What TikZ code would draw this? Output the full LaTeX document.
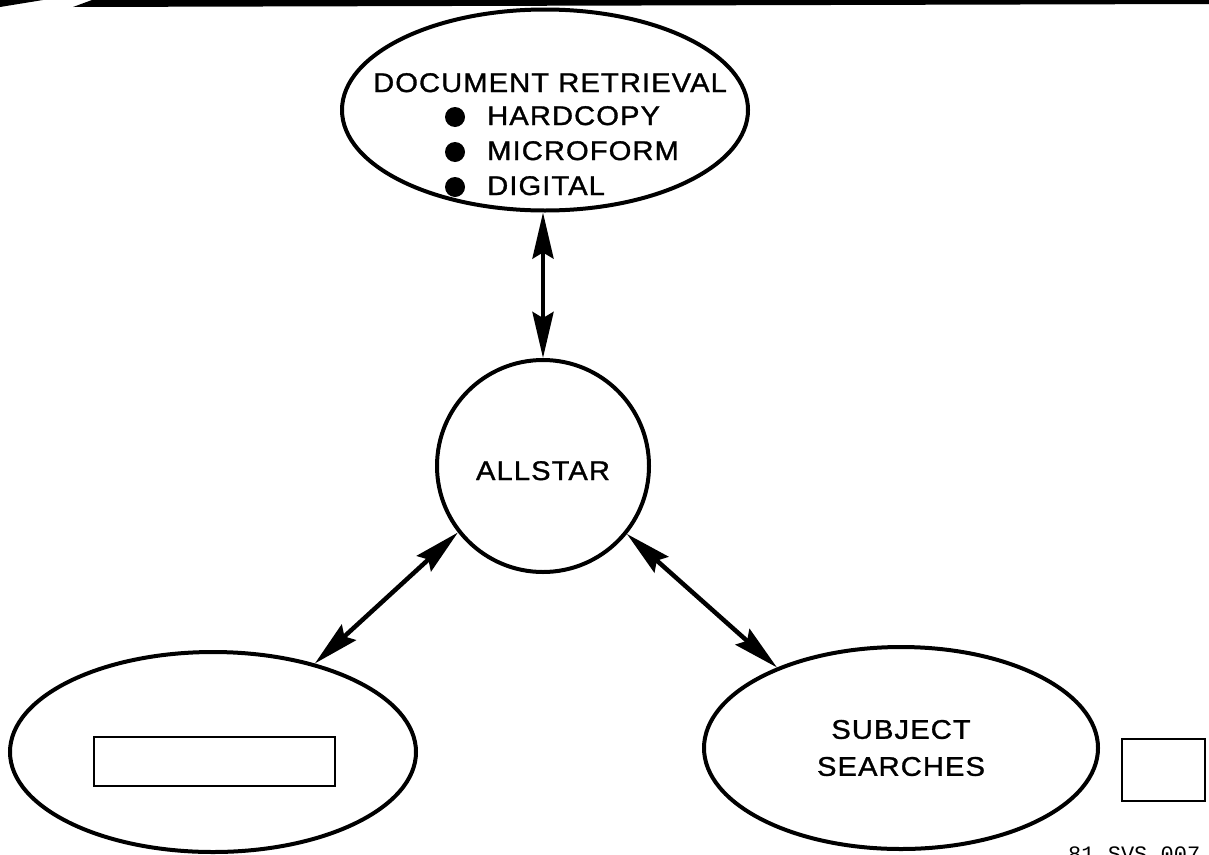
\documentclass[tikz,border=0pt]{standalone}
\usepackage{fontspec}
\newfontfamily\lblfont[LetterSpace=4,FakeStretch=1.08,FakeBold=1.2]{Liberation Sans}
\newfontfamily\codefont{Liberation Mono}
\usetikzlibrary{shapes.geometric,arrows.meta}
\begin{document}
\begin{tikzpicture}[x=1pt,y=-1pt,
  bubble/.style={ellipse,draw,line width=4pt,inner sep=0pt},
  hub/.style={circle,draw,line width=4pt,minimum size=212pt,inner sep=0pt},
  lbl/.style={font=\lblfont\fontsize{27}{37}\selectfont,inner sep=0pt},
  tipx/.tip={Stealth[length=46pt,width=21pt,inset=6pt]},
  link/.style={line width=4.5pt,tipx-tipx},
  blank/.style={draw,line width=2pt,inner sep=0pt},
  dot/.style={circle,fill,inner sep=0pt,minimum size=20pt}
]
\useasboundingbox (0,0) rectangle (1209,854);
\fill[white] (0,0) rectangle (1209,854);
% top edge marks
\fill (0,0) -- (43,0) -- (0,7) -- cycle;
\fill (73,7) -- (92,0) -- (1209,0) -- (1209,4) -- cycle;

% document retrieval
\node[bubble,minimum width=406pt,minimum height=201pt] (doc) at (545,110) {};
\node[lbl,anchor=base] (doct) at (550,92) {DOCUMENT RETRIEVAL};
\node[dot] (d1) at (455,117) {};
\node[lbl,anchor=base west] (hc) at (487,125) {HARDCOPY};
\node[dot] (d2) at (455,152) {};
\node[lbl,anchor=base west] (mf) at (487,160) {MICROFORM};
\node[dot] (d3) at (455,187) {};
\node[lbl,anchor=base west] (dg) at (487,195) {DIGITAL};

% hub
\node[hub,lbl,draw,line width=4pt,inner sep=0pt,minimum size=212pt,text height=28pt,text depth=0pt] (hub) at (543,466) {ALLSTAR};

% bottom left
\node[bubble,minimum width=406pt,minimum height=200pt] (left) at (213,752) {};
\node[blank,minimum width=241pt,minimum height=49pt] (box1) at (214.5,761.5) {};

% bottom right
\node[bubble,lbl,draw,line width=4pt,minimum width=394pt,minimum height=202pt,align=center] (right) at (901,748) {SUBJECT\\SEARCHES};
\node[blank,minimum width=83pt,minimum height=62pt] (box2) at (1163.5,770) {};

\node[font=\codefont\fontsize{22}{22}\selectfont,anchor=base west,inner sep=0pt] (code) at (1068,861) {81 SVS 007};

% connectors
\draw[link] (hub.north |- doc.south) -- (hub.north);
\draw[link] (hub.218) -- (left.41);
\draw[link] (hub.-39) -- (right.147);
\end{tikzpicture}
\end{document}
